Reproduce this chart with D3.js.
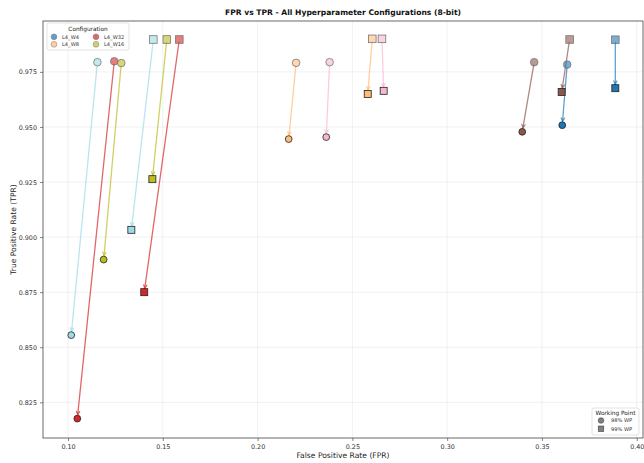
<!DOCTYPE html>
<html><head><meta charset="utf-8">
<script src="https://cdn.jsdelivr.net/npm/d3@7"></script>
<style>
html,body{margin:0;padding:0;background:#fff;}
text{font-family:"DejaVu Sans",sans-serif;}
</style></head>
<body><svg id="chart" width="644" height="463"></svg>
<script>
// ---- data ----
const seriesColors = ["#9edae5","#d62728","#bcbd22","#ffbb78","#f7b6d2","#8c564b","#1f77b4"];
// 98% working point: nominal (start) and 8-bit (end)
const wp98StartFPR = [0.1155, 0.1244, 0.1281, 0.2203, 0.2380, 0.3459, 0.3633];
const wp98StartTPR = [0.9794, 0.9798, 0.9790, 0.9791, 0.9794, 0.9794, 0.9783];
const wp98EndFPR   = [0.1017, 0.1049, 0.1188, 0.2164, 0.2362, 0.3396, 0.3607];
const wp98EndTPR   = [0.8555, 0.8176, 0.8898, 0.9445, 0.9454, 0.9478, 0.9508];
// 99% working point
const wp99StartFPR = [0.1450, 0.1587, 0.1521, 0.2605, 0.2656, 0.3646, 0.3887];
const wp99StartTPR = [0.9897, 0.9897, 0.9897, 0.9900, 0.9900, 0.9897, 0.9896];
const wp99EndFPR   = [0.1334, 0.1402, 0.1445, 0.2581, 0.2665, 0.3604, 0.3887];
const wp99EndTPR   = [0.9033, 0.8750, 0.9263, 0.9650, 0.9664, 0.9659, 0.9676];

const legendNames  = ["L4_W4","L4_W8","L4_W32","L4_W16"];
const legendColors = ["#1f77b4","#ffbb78","#d62728","#bcbd22"];
const xTicks = [0.10,0.15,0.20,0.25,0.30,0.35,0.40];
const yTicks = [0.825,0.850,0.875,0.900,0.925,0.950,0.975];
const wpNames = ["98% WP","99% WP"];

// ---- layout ----
const svg = d3.select("#chart");
const L = 43, R = 643, T = 21, B = 438;
const x = d3.scaleLinear().domain([0.0868, 0.4033]).range([L, R]);
const y = d3.scaleLinear().domain([0.8088, 0.9981]).range([B, T]);

// grid
const g = svg.append("g");
g.selectAll(".vg").data(xTicks).join("line")
  .attr("x1", d => x(d)).attr("x2", d => x(d)).attr("y1", T).attr("y2", B)
  .attr("stroke", "#b0b0b0").attr("stroke-opacity", 0.3).attr("stroke-width", 0.6);
g.selectAll(".hg").data(yTicks).join("line")
  .attr("x1", L).attr("x2", R).attr("y1", d => y(d)).attr("y2", d => y(d))
  .attr("stroke", "#b0b0b0").attr("stroke-opacity", 0.3).attr("stroke-width", 0.6);

// axes
const xAxis = d3.axisBottom(x).tickValues(xTicks).tickFormat(d3.format(".2f")).tickSize(3).tickPadding(3);
const yAxis = d3.axisLeft(y).tickValues(yTicks).tickFormat(d3.format(".3f")).tickSize(3).tickPadding(3);
const gx = svg.append("g").attr("transform", `translate(0,${B})`).call(xAxis);
const gy = svg.append("g").attr("transform", `translate(${L},0)`).call(yAxis);
[gx, gy].forEach(a => {
  a.select(".domain").remove();
  a.selectAll("line").attr("stroke", "#333").attr("stroke-width", 0.6);
  a.selectAll("text").attr("fill", "#333").style("font-size", "6.4px").style("font-family", "DejaVu Sans");
});
// frame
svg.append("rect").attr("x", L).attr("y", T).attr("width", R - L).attr("height", B - T)
  .attr("fill", "none").attr("stroke", "#444").attr("stroke-width", 0.8);

// arrows
function arrow(x0, y0, x1, y1, color) {
  const px0 = x(x0), py0 = y(y0), px1 = x(x1), py1 = y(y1);
  const dx = px1 - px0, dy = py1 - py0, len = Math.hypot(dx, dy);
  const ux = dx / len, uy = dy / len;
  const sA = 3, sB = 4;
  const ax = px0 + ux * sA, ay = py0 + uy * sA;
  const bx = px1 - ux * sB, by = py1 - uy * sB;
  const ag = svg.append("g").attr("stroke", color).attr("stroke-opacity", 0.7)
    .attr("stroke-width", 1.3).attr("fill", "none").attr("stroke-linecap", "round");
  ag.append("line").attr("x1", ax).attr("y1", ay).attr("x2", bx).attr("y2", by);
  const hl = 3.2, hw = 1.6;
  const nx = -uy, ny = ux;
  ag.append("path").attr("d",
    `M${bx - ux * hl + nx * hw},${by - uy * hl + ny * hw}L${bx},${by}L${bx - ux * hl - nx * hw},${by - uy * hl - ny * hw}`);
}
seriesColors.forEach((c, i) => {
  arrow(wp98StartFPR[i], wp98StartTPR[i], wp98EndFPR[i], wp98EndTPR[i], c);
  arrow(wp99StartFPR[i], wp99StartTPR[i], wp99EndFPR[i], wp99EndTPR[i], c);
});

// markers
const mk = svg.append("g");
function circle(px, py, r, color, op, edge) {
  mk.append("circle").attr("cx", px).attr("cy", py).attr("r", r)
    .attr("fill", color).attr("fill-opacity", op).attr("stroke", edge).attr("stroke-width", 0.8);
}
function square(px, py, s, color, op, edge) {
  mk.append("rect").attr("x", px - s / 2).attr("y", py - s / 2).attr("width", s).attr("height", s)
    .attr("fill", color).attr("fill-opacity", op).attr("stroke", edge).attr("stroke-width", 0.8);
}
seriesColors.forEach((c, i) => {
  circle(x(wp98StartFPR[i]), y(wp98StartTPR[i]), 3.8, c, 0.6, "#777");
  square(x(wp99StartFPR[i]), y(wp99StartTPR[i]), 7.6, c, 0.6, "#777");
});
seriesColors.forEach((c, i) => {
  circle(x(wp98EndFPR[i]), y(wp98EndTPR[i]), 3.4, c, 1, "#222");
  square(x(wp99EndFPR[i]), y(wp99EndTPR[i]), 7, c, 1, "#222");
});

// title and axis labels
svg.append("text").attr("x", (L + R) / 2).attr("y", 15).attr("text-anchor", "middle")
  .style("font-size", "7.6px").style("font-weight", "bold").attr("fill", "#111")
  .text("FPR vs TPR - All Hyperparameter Configurations (8-bit)");
svg.append("text").attr("x", (L + R) / 2).attr("y", 458).attr("text-anchor", "middle")
  .style("font-size", "7.6px").attr("fill", "#222").text("False Positive Rate (FPR)");
svg.append("text").attr("transform", `translate(16,${(T + B) / 2}) rotate(-90)`).attr("text-anchor", "middle")
  .style("font-size", "7.6px").attr("fill", "#222").text("True Positive Rate (TPR)");

// configuration legend
const lg = svg.append("g");
lg.append("rect").attr("x", 47).attr("y", 23).attr("width", 82).attr("height", 27).attr("rx", 2)
  .attr("fill", "#fff").attr("fill-opacity", 0.85).attr("stroke", "#d0d0d0").attr("stroke-width", 0.6);
lg.append("text").attr("x", 88).attr("y", 31).attr("text-anchor", "middle")
  .style("font-size", "5.8px").attr("fill", "#222").text("Configuration");
legendNames.forEach((n, i) => {
  const col = Math.floor(i / 2), row = i % 2;
  const cx = 54 + col * 42, cy = 36.8 + row * 7.5;
  lg.append("circle").attr("cx", cx).attr("cy", cy).attr("r", 2.9)
    .attr("fill", legendColors[i]).attr("fill-opacity", 0.7).attr("stroke", "#777").attr("stroke-width", 0.5);
  lg.append("text").attr("x", cx + 8).attr("y", cy + 1.9).style("font-size", "5.1px").attr("fill", "#333").text(n);
});

// working point legend
const wg = svg.append("g");
wg.append("rect").attr("x", 592).attr("y", 408).attr("width", 47).attr("height", 27).attr("rx", 2)
  .attr("fill", "#fff").attr("fill-opacity", 0.85).attr("stroke", "#d0d0d0").attr("stroke-width", 0.6);
wg.append("text").attr("x", 615.5).attr("y", 414.5).attr("text-anchor", "middle")
  .style("font-size", "5.8px").attr("fill", "#222").text("Working Point");
wpNames.forEach((n, i) => {
  const cy = 420.5 + i * 8.3;
  if (i === 0) {
    wg.append("circle").attr("cx", 601).attr("cy", cy).attr("r", 2.8).attr("fill", "#808080").attr("stroke", "#333").attr("stroke-width", 0.5);
  } else {
    wg.append("rect").attr("x", 598.2).attr("y", cy - 2.8).attr("width", 5.6).attr("height", 5.6).attr("fill", "#808080").attr("stroke", "#333").attr("stroke-width", 0.5);
  }
  wg.append("text").attr("x", 611).attr("y", cy + 1.9).style("font-size", "5.1px").attr("fill", "#333").text(n);
});
</script></body></html>
